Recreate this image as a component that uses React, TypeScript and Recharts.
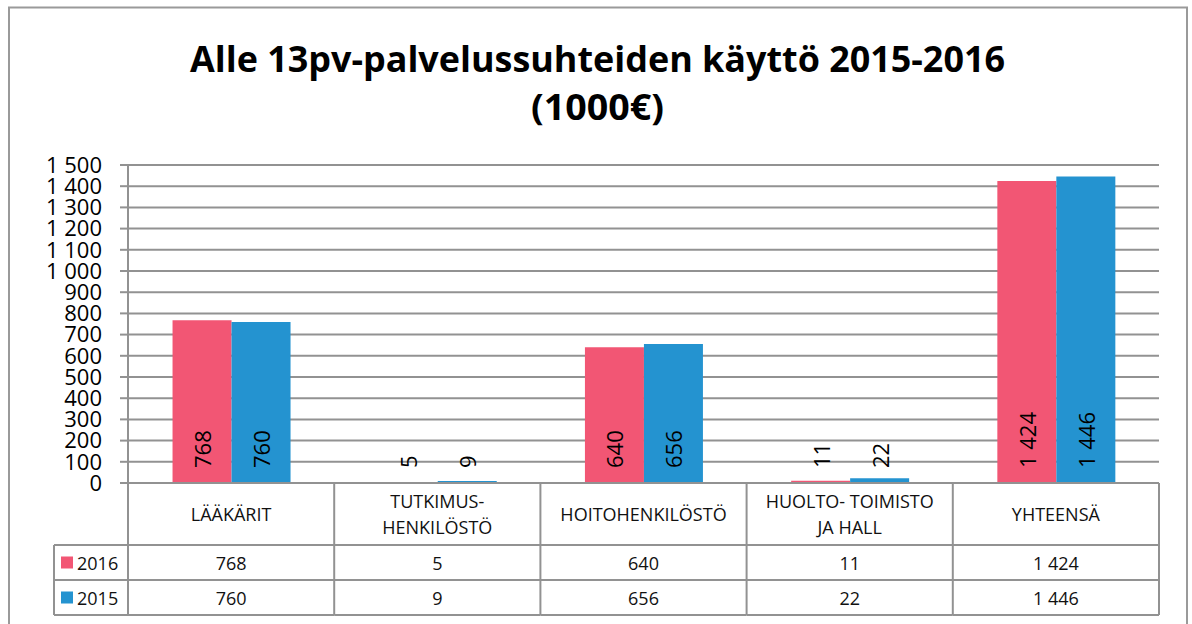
import React from 'react';
import { BarChart, Bar, XAxis, YAxis, CartesianGrid, LabelList } from 'recharts';

const TITLE_LINES = ['Alle 13pv-palvelussuhteiden käyttö 2015-2016', '(1000€)'];
const CATEGORIES = ['LÄÄKÄRIT', 'TUTKIMUS-|HENKILÖSTÖ', 'HOITOHENKILÖSTÖ', 'HUOLTO- TOIMISTO|JA HALL', 'YHTEENSÄ'];
const SERIES_NAMES = ['2016', '2015'];
const VALUES_2016 = [768, 5, 640, 11, 1424];
const VALUES_2015 = [760, 9, 656, 22, 1446];
const Y_TICKS = [0, 100, 200, 300, 400, 500, 600, 700, 800, 900, 1000, 1100, 1200, 1300, 1400, 1500];

const COLORS = ['#F25674', '#2493D0'];
const GRID = '#929292';

const W = 1192;
const H = 624;
const X_AXIS_H = 141;
const MARGIN = { top: 165, right: 33, bottom: 0, left: 0 };
const Y_AXIS_W = 128;
const PLOT_L = MARGIN.left + Y_AXIS_W;
const PLOT_R = W - MARGIN.right;
const PLOT_B = H - MARGIN.bottom - X_AXIS_H;
const COL_W = (PLOT_R - PLOT_L) / CATEGORIES.length;
const HEADER_B = PLOT_B + 62;
const ROW1_B = HEADER_B + 35;
const ROW2_B = ROW1_B + 35;
const LEGEND_L = 54;

const data = CATEGORIES.map((name, i) => ({ name, v2016: VALUES_2016[i], v2015: VALUES_2015[i] }));

const fmt = (v: number | string) => {
  const n = Number(v);
  if (n >= 1000) {
    return `${Math.floor(n / 1000)} ${String(n % 1000).padStart(3, '0')}`;
  }
  return String(n);
};

const TABLE_FONT = { fontFamily: '"Open Sans", sans-serif', fontSize: 18, fill: '#111' };
const AXIS_FONT = '"Open Sans", sans-serif';

const TableTick = (props: any) => {
  const { x, payload } = props;
  const i = payload.index;
  const left = x - COL_W / 2;
  const right = x + COL_W / 2;
  const lines = String(payload.value).split('|');
  const headerMid = (PLOT_B + HEADER_B) / 2;
  const lh = 26;
  const rows = [VALUES_2016[i], VALUES_2015[i]];
  const rowMids = [(HEADER_B + ROW1_B) / 2, (ROW1_B + ROW2_B) / 2];
  return (
    <g>
      <line x1={right} y1={PLOT_B} x2={right} y2={ROW2_B} stroke={GRID} strokeWidth={2} />
      {i === 0 && <line x1={left} y1={PLOT_B} x2={left} y2={ROW2_B} stroke={GRID} strokeWidth={2} />}
      {[HEADER_B, ROW1_B, ROW2_B].map((yy) => (
        <line key={yy} x1={left} y1={yy} x2={right} y2={yy} stroke={GRID} strokeWidth={2} />
      ))}
      {lines.map((ln, k) => (
        <text
          key={k}
          x={x}
          y={headerMid + (k - (lines.length - 1) / 2) * lh}
          textAnchor="middle"
          dominantBaseline="central"
          {...TABLE_FONT}
        >
          {ln}
        </text>
      ))}
      {rows.map((v, k) => (
        <text key={k} x={x} y={rowMids[k]} textAnchor="middle" dominantBaseline="central" {...TABLE_FONT}>
          {fmt(v)}
        </text>
      ))}
      {i === 0 && (
        <g>
          <line x1={LEGEND_L} y1={HEADER_B} x2={LEGEND_L} y2={ROW2_B} stroke={GRID} strokeWidth={2} />
          {[HEADER_B, ROW1_B, ROW2_B].map((yy) => (
            <line key={yy} x1={LEGEND_L} y1={yy} x2={left} y2={yy} stroke={GRID} strokeWidth={2} />
          ))}
          {SERIES_NAMES.map((s, k) => (
            <g key={s}>
              <rect x={LEGEND_L + 7} y={rowMids[k] - 6} width={12} height={12} fill={COLORS[k]} />
              <text x={LEGEND_L + 23} y={rowMids[k]} dominantBaseline="central" {...TABLE_FONT}>
                {s}
              </text>
            </g>
          ))}
        </g>
      )}
    </g>
  );
};

const BarValueLabel = (props: any) => {
  const { x, y, width, height, value } = props;
  const cx = Number(x) + Number(width) / 2;
  const baseY = Number(y) + Number(height) - 15;
  return (
    <text
      transform={`translate(${cx},${baseY}) rotate(-90)`}
      textAnchor="start"
      dominantBaseline="central"
      fontSize={22}
      fontFamily={AXIS_FONT}
      fill="#000"
    >
      {fmt(value)}
    </text>
  );
};

export default function App() {
  return (
    <div style={{ position: 'absolute', left: 0, top: 0, width: W, height: H, background: '#fff', overflow: 'hidden' }}>
      <BarChart
        width={W}
        height={H}
        data={data}
        margin={MARGIN}
        barCategoryGap="21.6%"
        barGap={0}
      >
        <CartesianGrid vertical={false} stroke={GRID} strokeWidth={2} />
        <XAxis
          dataKey="name"
          height={X_AXIS_H}
          interval={0}
          tickLine={false}
          axisLine={{ stroke: GRID, strokeWidth: 2 }}
          tick={<TableTick />}
        />
        <YAxis
          width={Y_AXIS_W}
          domain={[0, 1500]}
          ticks={Y_TICKS}
          interval={0}
          tickSize={8}
          tickMargin={18}
          tickFormatter={fmt}
          axisLine={{ stroke: GRID, strokeWidth: 2 }}
          tickLine={{ stroke: GRID, strokeWidth: 2 }}
          tick={{ fill: '#000', fontSize: 22, fontFamily: AXIS_FONT }}
        />
        <Bar dataKey="v2016" name={SERIES_NAMES[0]} fill={COLORS[0]} isAnimationActive={false}>
          <LabelList dataKey="v2016" content={<BarValueLabel />} />
        </Bar>
        <Bar dataKey="v2015" name={SERIES_NAMES[1]} fill={COLORS[1]} isAnimationActive={false}>
          <LabelList dataKey="v2015" content={<BarValueLabel />} />
        </Bar>
      </BarChart>
      <svg width={W} height={H} style={{ position: 'absolute', left: 0, top: 0, pointerEvents: 'none' }}>
        <path d={`M9 ${H + 5} V7.5 H1187 V${H + 5}`} fill="none" stroke="#9a9a9a" strokeWidth={2} />
        <text
          x={597.5}
          y={72}
          textAnchor="middle"
          fontFamily='"Open Sans", sans-serif'
          fontWeight="bold"
          fontSize={35}
          textLength={815}
          lengthAdjust="spacingAndGlyphs"
          fill="#000"
        >
          {TITLE_LINES[0]}
        </text>
        <text
          x={597.5}
          y={120}
          textAnchor="middle"
          fontFamily='"Open Sans", sans-serif'
          fontWeight="bold"
          fontSize={35}
          textLength={133}
          lengthAdjust="spacingAndGlyphs"
          fill="#000"
        >
          {TITLE_LINES[1]}
        </text>
      </svg>
    </div>
  );
}
